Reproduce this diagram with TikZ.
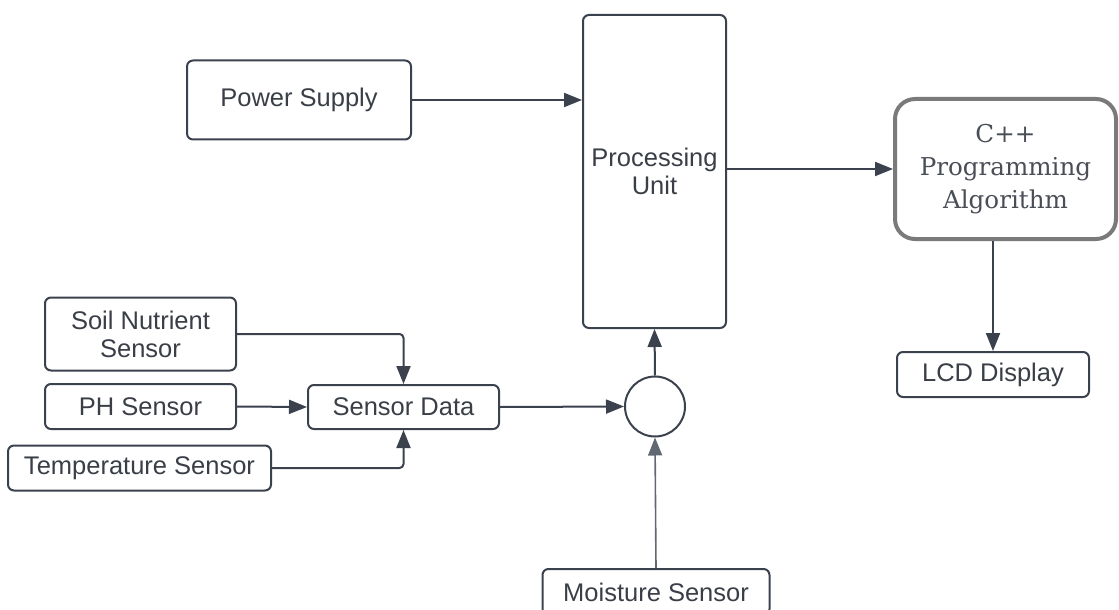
\documentclass[tikz,border=0pt]{standalone}
\usepackage{fontspec}
\setmainfont{Liberation Sans}
\newfontfamily\algofont{DejaVu Serif}
\usetikzlibrary{arrows.meta}
\definecolor{linegray}{HTML}{3B424E}
\definecolor{textgray}{HTML}{3A3F47}
\definecolor{algogray}{HTML}{7A7A7A}
\tikzset{
  block/.style={draw=linegray, line width=1pt, rounded corners=3pt, fill=white,
    text=textgray, align=center, inner sep=0pt,
    font=\fontsize{12.75}{14}\selectfont},
  wire/.style={draw=linegray, line width=1pt, rounded corners=2pt,
    -{Triangle[length=9pt,width=7pt]}},
}
\begin{document}
\begin{tikzpicture}
\useasboundingbox (0pt,0pt) rectangle (559.5pt,-305pt);
\clip (0pt,0pt) rectangle (559.5pt,-305pt);
\node[block, minimum width=112pt, minimum height=39.5pt] (power) at (149.5pt,-50pt) {Power Supply};
\node[block, minimum width=71.5pt, minimum height=156.5pt] (proc) at (327.25pt,-85.75pt) {Processing\\Unit};
\node[block, draw=algogray, line width=2pt, rounded corners=10pt, minimum width=110.5pt, minimum height=70pt,
  font=\algofont\fontsize{12.3}{16.5}\selectfont, text=textgray!92] (algo) at (502.75pt,-84.5pt) {C++\\Programming\\Algorithm};
\node[block, minimum width=96pt, minimum height=22.5pt] (lcd) at (496.5pt,-187.25pt) {LCD Display};
\node[block, minimum width=95.5pt, minimum height=36.5pt] (soil) at (70.25pt,-167pt) {Soil Nutrient\\Sensor};
\node[block, minimum width=95.5pt, minimum height=22.5pt] (ph) at (70.25pt,-203.25pt) {PH Sensor};
\node[block, minimum width=131.5pt, minimum height=22.5pt] (temp) at (69.75pt,-234pt) {Temperature Sensor};
\node[block, minimum width=95.5pt, minimum height=22pt] (data) at (201.75pt,-203.5pt) {Sensor Data};
\node[draw=linegray, line width=1pt, circle, minimum size=30pt, inner sep=0pt] (sum) at (327.5pt,-203.25pt) {};
\node[block, minimum width=113.5pt, minimum height=23pt] (moist) at (328pt,-296pt) {Moisture Sensor};
\draw[wire] (power.east) -- (power.east -| proc.west);
\draw[wire] (proc.east |- algo.west) -- (algo.west);
\draw[wire] (lcd.north |- algo.south) -- (lcd.north);
\draw[wire] (soil.east) -| (data.north);
\draw[wire] (temp.east) -| (data.south);
\draw[wire] (ph.east) -- (data.west);
\draw[wire] (data.east) -- (sum.west);
\draw[wire] (sum.north) -- (proc.south);
\draw[wire, draw=linegray!80, line width=0.8pt] (moist.north) -- (sum.south);
\end{tikzpicture}
\end{document}
